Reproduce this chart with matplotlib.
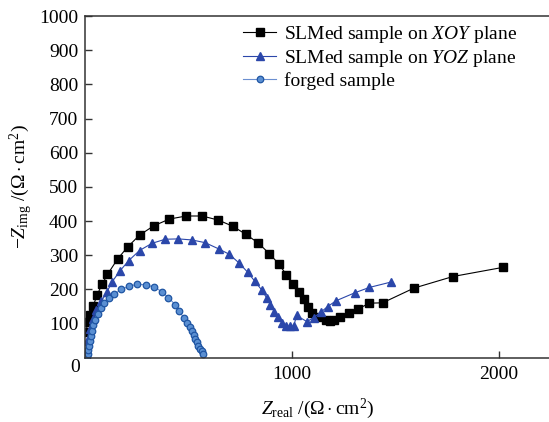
import matplotlib
matplotlib.use('Agg')
import matplotlib.pyplot as plt

plt.rcParams['font.family'] = 'Liberation Serif'
plt.rcParams['mathtext.fontset'] = 'custom'
plt.rcParams['mathtext.rm'] = 'Liberation Serif'
plt.rcParams['mathtext.it'] = 'Liberation Serif:italic'

# SLMed sample, XOY plane
xoy_re = [5, 12, 25, 40, 58, 82, 108, 158, 205, 263, 331, 407, 488, 566, 644,
          714, 778, 837, 890, 936, 973, 1007, 1036, 1056, 1076, 1097, 1124,
          1163, 1185, 1201, 1230, 1274, 1319, 1374, 1438, 1589, 1778, 2022]
xoy_im = [75, 104, 126, 153, 184, 215, 244, 290, 324, 359, 386, 406, 415, 415,
          403, 385, 361, 336, 305, 275, 243, 217, 193, 171, 148, 131, 119,
          110, 109, 111, 119, 131, 143, 160, 161, 204, 238, 265]

# SLMed sample, YOZ plane
yoz_re = [3, 10, 22, 38, 55, 78, 105, 130, 168, 210, 263, 323, 387, 451, 516,
          580, 645, 697, 745, 785, 819, 853, 877, 895, 914, 932, 953, 972,
          988, 1008, 1022, 1072, 1105, 1140, 1172, 1213, 1306, 1374, 1480]
yoz_im = [20, 50, 85, 115, 140, 165, 192, 222, 254, 284, 314, 335, 347, 348,
          345, 337, 319, 303, 277, 251, 225, 199, 176, 155, 135, 119, 103, 94,
          92, 92, 124, 106, 118, 134, 150, 167, 191, 206, 222]

# forged sample
forged_re = [10, 12, 15, 18, 22, 27, 33, 40, 50, 62, 75, 92, 115, 142, 175,
             212, 252, 292, 333, 371, 403, 435, 456, 476, 492, 505, 515, 524,
             532, 540, 548, 556, 563, 570]
forged_im = [2, 10, 22, 35, 50, 65, 80, 95, 112, 128, 145, 160, 174, 187, 200,
             210, 215, 214, 207, 194, 176, 156, 136, 118, 102, 90, 78, 66, 56,
             46, 36, 27, 19, 12]

fig = plt.figure(figsize=(5.49, 4.22), dpi=100)
ax = fig.add_axes([0.155, 0.152, 0.848, 0.81])

ax.plot(xoy_re, xoy_im, '-s', color='black', lw=0.8, ms=6,
        label='SLMed sample on $XOY$ plane')
ax.plot(yoz_re, yoz_im, '-^', color='#2b47aa', lw=0.8, ms=6.3,
        label='SLMed sample on $YOZ$ plane')
ax.plot(forged_re, forged_im, '-o', color='#6b8fd0', lw=0.8, ms=4.7,
        mfc='#5a8fd2', mec='#1f55a3', mew=0.9, label='forged sample')

ax.set_xlim(0, 2250)
ax.set_ylim(0, 1000)
ax.set_xticks([0, 1000, 2000])
ax.set_xticklabels(['', '1000', '2000'])
ax.set_yticks(range(100, 1001, 100))
ax.tick_params(direction='in', length=5, width=1, labelsize=14, color='#333333')
ax.tick_params(axis='x', pad=6)
ax.tick_params(axis='y', pad=5)
ax.annotate('0', xy=(0, 0), xycoords='data', xytext=(-7, -7),
            textcoords='offset points', ha='center', va='center', fontsize=14)

for s in ax.spines.values():
    s.set_linewidth(1.1)
    s.set_color('#333333')

ax.set_xlabel(r'$Z_{\rm real}$ /($\Omega\cdot$cm$^2$)', fontsize=14, labelpad=10)
ax.set_ylabel(r'$-Z_{\rm img}$ /($\Omega\cdot$cm$^2$)', fontsize=14, labelpad=3)

ax.legend(loc='upper left', bbox_to_anchor=(0.315, 1.01), frameon=False,
          fontsize=14, handlelength=1.7, handletextpad=0.4, labelspacing=0.15,
          borderaxespad=0.2)

fig.savefig('out.png', dpi=100)
